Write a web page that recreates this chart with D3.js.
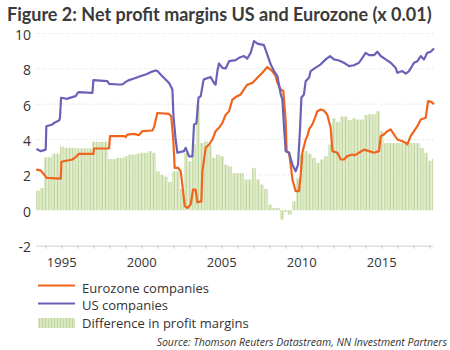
<!DOCTYPE html>
<html><head><meta charset="utf-8">
<script src="https://cdn.jsdelivr.net/npm/d3@7"></script>
<style>body{margin:0;background:#fff}svg{display:block}text{font-family:"Open Sans",sans-serif;fill:#333}</style>
</head><body>
<script>
const yTicks = [-2,0,2,4,6,8,10];
const xTickLabels = [1995,2000,2005,2010,2015];
const legendLabels = ["Eurozone companies","US companies","Difference in profit margins"];
const usMargin = [[1993.42,3.47],[1993.69,3.34],[1994.0,3.43],[1994.04,4.75],[1994.42,4.85],[1994.52,4.94],[1994.83,5.07],[1994.89,5.2],[1994.96,6.36],[1995.35,6.3],[1995.46,6.34],[1995.87,6.45],[1996.04,6.68],[1996.92,6.64],[1996.98,7.36],[1997.85,7.3],[1997.96,7.15],[1998.52,7.11],[1998.79,7.11],[1999.0,7.26],[1999.21,7.36],[1999.52,7.45],[2000.04,7.62],[2000.25,7.68],[2000.56,7.81],[2000.87,7.9],[2000.98,7.87],[2001.29,7.58],[2001.71,7.2],[2001.92,6.83],[2001.98,5.4],[2002.12,4.0],[2002.23,3.25],[2002.64,3.34],[2002.75,3.53],[2002.96,3.05],[2003.17,3.05],[2003.27,4.85],[2003.42,4.9],[2003.55,6.36],[2003.69,6.45],[2003.85,7.3],[2003.89,7.4],[2004.31,7.53],[2004.52,7.2],[2004.62,7.1],[2004.73,7.87],[2004.83,8.3],[2005.04,8.05],[2005.25,8.02],[2005.46,8.43],[2005.87,8.49],[2006.08,8.62],[2006.39,8.72],[2006.6,8.58],[2006.81,8.9],[2007.02,9.57],[2007.23,9.42],[2007.64,9.34],[2007.85,8.8],[2008.06,8.25],[2008.27,7.87],[2008.48,7.58],[2008.69,6.55],[2008.79,6.26],[2008.9,4.66],[2009.0,3.34],[2009.21,3.25],[2009.42,2.58],[2009.62,2.2],[2009.77,2.58],[2009.9,4.66],[2009.98,6.36],[2010.14,6.55],[2010.25,7.3],[2010.46,7.49],[2010.56,7.87],[2010.87,8.06],[2011.19,8.25],[2011.5,8.53],[2011.77,8.72],[2012.02,8.53],[2012.33,8.47],[2012.64,8.34],[2012.96,8.15],[2013.27,8.2],[2013.58,8.34],[2013.79,8.62],[2014.0,8.9],[2014.21,8.77],[2014.52,8.77],[2014.73,8.96],[2014.94,8.72],[2015.25,8.53],[2015.56,8.34],[2015.87,8.06],[2015.98,7.77],[2016.29,7.87],[2016.5,7.72],[2016.71,7.87],[2017.02,8.34],[2017.23,8.43],[2017.44,8.72],[2017.64,8.53],[2017.85,8.9],[2018.06,8.96],[2018.27,9.15]];
const ezMargin = [[1993.4,2.3],[1993.69,2.25],[1993.9,2.02],[1994.06,1.83],[1994.94,1.79],[1994.98,2.74],[1995.35,2.81],[1995.67,2.87],[1995.87,3.0],[1996.08,3.19],[1996.98,3.19],[1997.02,3.49],[1997.96,3.49],[1998.02,4.19],[1998.9,4.19],[1999.0,4.13],[1999.1,4.28],[1999.52,4.32],[1999.83,4.25],[2000.04,4.47],[2000.67,4.51],[2000.77,4.7],[2000.98,5.5],[2001.71,5.45],[2001.85,5.3],[2001.98,3.9],[2002.06,2.4],[2002.27,2.4],[2002.44,2.2],[2002.54,1.45],[2002.69,0.23],[2002.85,0.13],[2003.06,0.32],[2003.21,1.17],[2003.37,1.17],[2003.48,0.45],[2003.73,0.5],[2003.79,2.2],[2004.0,3.53],[2004.21,3.72],[2004.42,4.0],[2004.62,4.47],[2004.83,4.66],[2005.04,4.94],[2005.25,5.4],[2005.46,5.6],[2005.67,6.26],[2005.87,6.4],[2006.19,6.55],[2006.39,6.83],[2006.6,7.1],[2006.92,7.2],[2007.23,7.49],[2007.54,7.77],[2007.85,8.1],[2008.16,7.87],[2008.37,7.6],[2008.48,7.21],[2008.69,6.83],[2008.85,6.74],[2009.0,5.04],[2009.06,3.34],[2009.21,3.25],[2009.31,2.58],[2009.42,1.74],[2009.62,1.08],[2009.83,1.08],[2009.94,2.02],[2010.04,3.25],[2010.25,4.0],[2010.35,4.19],[2010.46,4.57],[2010.67,4.85],[2010.87,5.32],[2010.98,5.6],[2011.19,5.7],[2011.39,5.64],[2011.6,5.4],[2011.81,4.66],[2011.92,3.34],[2012.23,3.25],[2012.44,2.87],[2012.64,2.87],[2012.85,3.06],[2013.17,3.15],[2013.3,3.1],[2013.58,3.25],[2013.9,3.43],[2014.21,3.34],[2014.52,3.25],[2014.83,3.34],[2014.94,4.19],[2015.14,4.28],[2015.35,4.47],[2015.56,4.57],[2015.77,4.28],[2015.98,4.0],[2016.29,3.9],[2016.5,3.81],[2016.6,3.72],[2016.81,4.19],[2017.02,4.47],[2017.23,4.75],[2017.44,5.13],[2017.75,5.23],[2017.9,6.17],[2018.1,6.13],[2018.27,6.0]];
const diffStart = [1993.4,1993.65,1993.9,1994.15,1994.4,1994.65,1994.9,1995.15,1995.4,1995.65,1995.9,1996.15,1996.4,1996.65,1996.9,1997.15,1997.4,1997.65,1997.9,1998.15,1998.4,1998.65,1998.9,1999.15,1999.4,1999.65,1999.9,2000.15,2000.4,2000.65,2000.9,2001.15,2001.4,2001.65,2001.9,2002.15,2002.4,2002.65,2002.9,2003.15,2003.4,2003.65,2003.9,2004.15,2004.4,2004.65,2004.9,2005.15,2005.4,2005.65,2005.9,2006.15,2006.4,2006.65,2006.9,2007.15,2007.4,2007.65,2007.9,2008.15,2008.4,2008.65,2008.9,2009.15,2009.4,2009.65,2009.9,2010.15,2010.4,2010.65,2010.9,2011.15,2011.4,2011.65,2011.9,2012.15,2012.4,2012.65,2012.9,2013.15,2013.4,2013.65,2013.9,2014.15,2014.4,2014.65,2014.9,2015.15,2015.4,2015.65,2015.9,2016.15,2016.4,2016.65,2016.9,2017.15,2017.4,2017.65,2017.9,2018.15];
const diffValues = [1.11,1.26,3.0,3.0,3.2,3.2,3.6,3.53,3.53,3.53,3.5,3.5,3.5,3.5,3.87,3.87,3.87,3.87,2.9,2.9,2.96,2.96,3.05,3.15,3.15,3.2,3.25,3.25,3.34,3.25,2.2,2.0,1.9,1.6,2.2,2.2,1.2,3.25,2.77,3.72,5.98,3.8,3.9,3.7,2.96,3.15,3.06,2.58,2.49,2.1,2.1,2.1,1.74,1.74,2.4,1.74,1.45,1.2,0.32,0.13,0.13,-0.53,-0.1,-0.25,0.5,1.8,3.15,3.34,3.19,2.96,2.68,2.87,3.06,3.72,5.2,5.0,5.3,5.3,5.1,5.2,5.13,5.13,5.38,5.43,5.43,5.6,4.47,3.8,3.8,3.8,3.8,3.8,3.8,3.8,3.8,3.8,3.53,3.25,2.8,2.9];

const W=450,H=350;
const svg=d3.select("body").append("svg").attr("width",W).attr("height",H);
const defs=svg.append("defs");
const pat=defs.append("pattern").attr("id","hatch").attr("patternUnits","userSpaceOnUse").attr("width",3).attr("height",4);
pat.append("rect").attr("width",3).attr("height",4).attr("fill","#d9e7c2");
pat.append("rect").attr("width",0.9).attr("height",4).attr("fill","#c0d69a");

const x=d3.scaleLinear().domain([1993.4,2018.2]).range([36.1,432.9]);
const y=d3.scaleLinear().domain([-2,10]).range([245.6,33.4]);

svg.append("text").attr("x",7).attr("y",21).attr("font-size",18).attr("font-weight","bold")
  .style("font-family","Lato, 'Open Sans', sans-serif").style("fill","#3a3a3a")
  .text("Figure 2: Net profit margins US and Eurozone (x 0.01)");

// gridlines
svg.append("g").selectAll("line").data(yTicks.filter(d=>d>0)).join("line")
  .attr("x1",36).attr("x2",433).attr("y1",d=>y(d)).attr("y2",d=>y(d))
  .attr("stroke","#dcdcdc").attr("stroke-width",1).attr("stroke-dasharray","1,2");

// y labels
svg.append("g").selectAll("text").data(yTicks).join("text")
  .attr("x",31).attr("y",d=>y(d)+1.5).attr("dy","0.35em").attr("text-anchor","end")
  .attr("font-size",14).text(d=>d);

// bars
const bars=diffStart.map((s,i)=>({s,v:diffValues[i]}));
svg.append("g").selectAll("rect").data(bars).join("rect")
  .attr("x",d=>x(d.s))
  .attr("width",d=>Math.max(0,Math.min(x(d.s+0.25),433.5)-x(d.s)-0.4))
  .attr("y",d=>y(Math.max(0,d.v)))
  .attr("height",d=>Math.abs(y(d.v)-y(0)))
  .attr("fill","url(#hatch)");

// x axis
const xAxis=d3.axisBottom(x).tickValues(d3.range(1994,2019)).tickSize(3).tickFormat("");
const ax=svg.append("g").attr("transform",`translate(0,${y(-2)})`).call(xAxis);
ax.select(".domain").attr("stroke","#d0d0d0").attr("d","M36,0.5H433");
ax.selectAll(".tick line").attr("stroke","#c8c8c8");
svg.append("g").selectAll("text").data(xTickLabels).join("text")
  .attr("x",d=>x(d)).attr("y",267).attr("text-anchor","middle").attr("font-size",13).text(d=>d);

// lines
const line=d3.line().x(d=>x(d[0])).y(d=>y(d[1]));
svg.append("path").datum(ezMargin).attr("d",line).attr("fill","none").attr("stroke","#f0641e").attr("stroke-width",2.2).attr("stroke-linejoin","round");
svg.append("path").datum(usMargin).attr("d",line).attr("fill","none").attr("stroke","#6a62b8").attr("stroke-width",2.2).attr("stroke-linejoin","round");

// legend
const lg=svg.append("g");
lg.append("line").attr("x1",38).attr("x2",75).attr("y1",285.5).attr("y2",285.5).attr("stroke","#f0641e").attr("stroke-width",2.2);
lg.append("line").attr("x1",38).attr("x2",75).attr("y1",303.5).attr("y2",303.5).attr("stroke","#6a62b8").attr("stroke-width",2.2);
lg.append("rect").attr("x",38).attr("y",318).attr("width",37).attr("height",10).attr("fill","url(#hatch)");
lg.selectAll("text").data(legendLabels).join("text")
  .attr("x",82).attr("y",(d,i)=>[292.5,310,328][i]).attr("font-size",13).text(d=>d);

svg.append("text").attr("x",447).attr("y",346).attr("text-anchor","end").attr("font-size",10.5)
  .attr("font-style","italic").text("Source: Thomson Reuters Datastream, NN Investment Partners");
</script>
</body></html>
